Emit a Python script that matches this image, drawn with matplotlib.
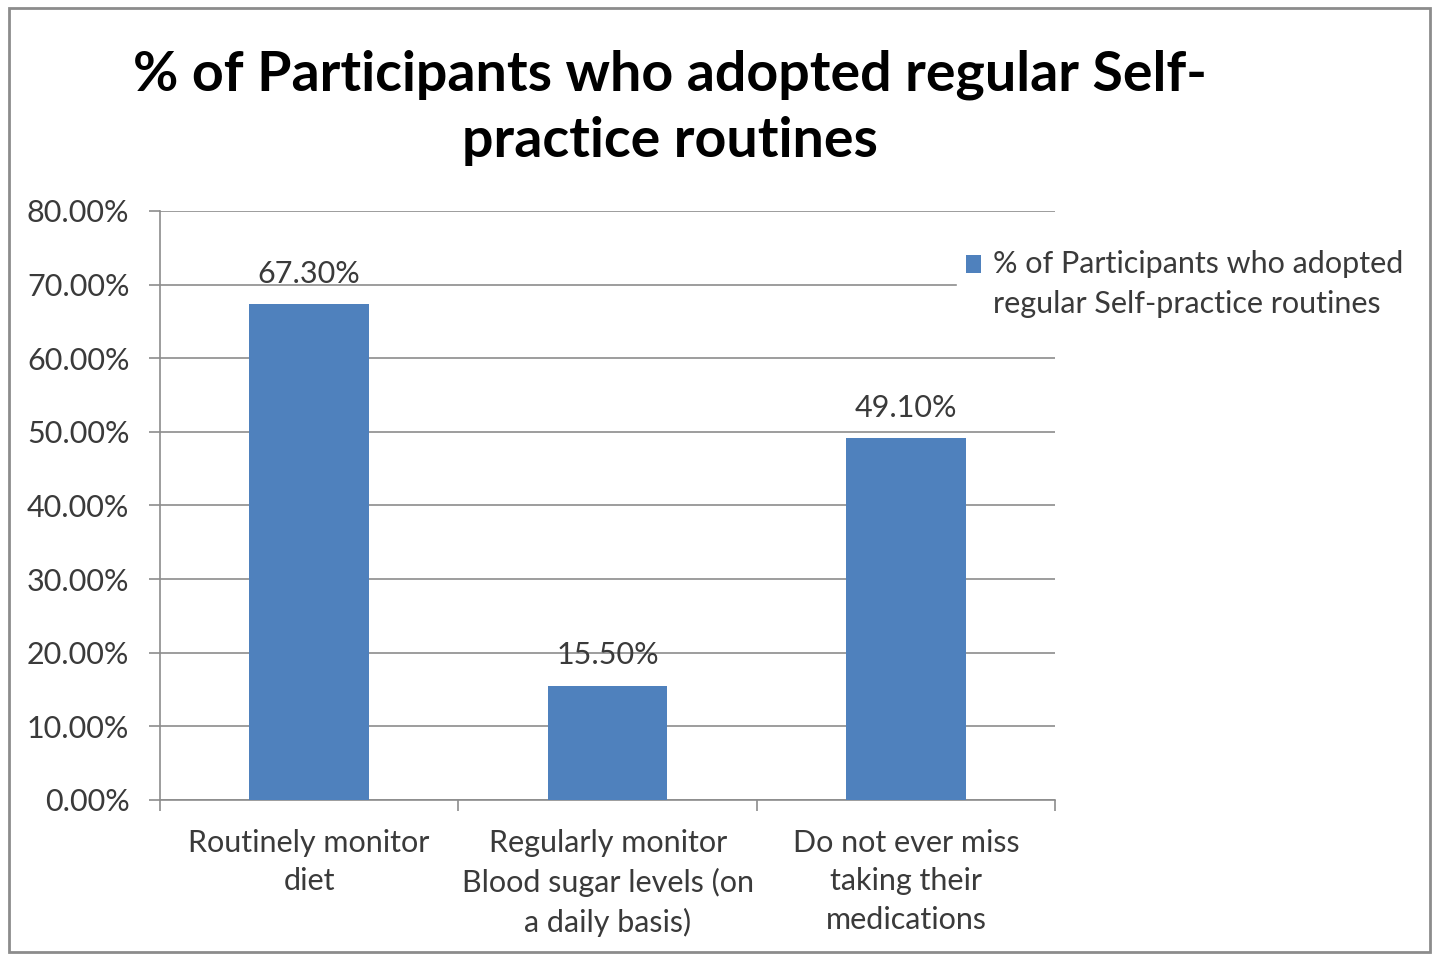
import matplotlib
matplotlib.use('Agg')
import matplotlib.pyplot as plt
from matplotlib.patches import Rectangle

plt.rcParams['font.family'] = ['Lato', 'DejaVu Sans']

# Data
categories = ['Routinely monitor\ndiet',
              'Regularly monitor\nBlood sugar levels (on\na daily basis)',
              'Do not ever miss\ntaking their\nmedications']
values = [67.30, 15.50, 49.10]
series_name = '% of Participants who adopted\nregular Self-practice routines'
title = '% of Participants who adopted regular Self-\npractice routines'
yticks = [0, 10, 20, 30, 40, 50, 60, 70, 80]

bar_color = '#4F81BD'
grid_color = '#8C8C8C'
text_color = '#3A3A3A'
fs = 22

fig = plt.figure(figsize=(14.37, 9.56), dpi=100)
ax = fig.add_axes([0.1113, 0.1632, 0.6231, 0.6161])

x = range(len(categories))
bars = ax.bar(x, values, width=0.4, color=bar_color, label=series_name, zorder=3)

for b, v in zip(bars, values):
    ax.text(b.get_x() + b.get_width() / 2, v + 2.3, f'{v:.2f}%',
            ha='center', va='bottom', fontsize=fs, color=text_color)

ax.set_xlim(-0.5, 2.5)
ax.set_ylim(0, 80)
ax.set_yticks(yticks)
ax.set_yticklabels([f'{t:.2f}%' for t in yticks], fontsize=fs, color=text_color)
ax.yaxis.grid(True, color=grid_color, linewidth=1.2, zorder=0)

ax.set_xticks([-0.5, 0.5, 1.5, 2.5])
ax.set_xticklabels([])
ax.set_xticks(list(x), minor=True)
ax.set_xticklabels(categories, minor=True, fontsize=fs, color=text_color,
                   linespacing=1.45)
ax.tick_params(axis='x', which='minor', length=0, pad=21)
ax.tick_params(axis='x', which='major', length=8, color=grid_color, width=1.2)
ax.tick_params(axis='y', length=8, color=grid_color, width=1.2, pad=14)

for s in ['top', 'right']:
    ax.spines[s].set_visible(False)
for s in ['left', 'bottom']:
    ax.spines[s].set_color(grid_color)
    ax.spines[s].set_linewidth(1.2)

fig.suptitle(title, x=0.466, y=0.948, fontsize=40, fontweight='bold',
             color='black', linespacing=1.38)

leg = fig.legend(loc='upper left', bbox_to_anchor=(0.655, 0.764), fontsize=fs,
                 frameon=True, handlelength=0.5, handleheight=0.5,
                 handletextpad=0.4, borderpad=0.3)
leg.get_frame().set_edgecolor('white')
leg.get_frame().set_facecolor('white')
leg.get_frame().set_alpha(1)
for t in leg.get_texts():
    t.set_color(text_color)
    t.set_linespacing(1.52)
# line the marker up with the first text line, as Excel does
h = leg.legend_handles[0]
h.set_y(h.get_y() + 15)

# outer chart border
fig.patches.append(Rectangle((0.006, 0.004), 0.989, 0.988, transform=fig.transFigure,
                             fill=False, edgecolor='#8C8C8C', linewidth=2))

fig.savefig('out.png', dpi=100)
